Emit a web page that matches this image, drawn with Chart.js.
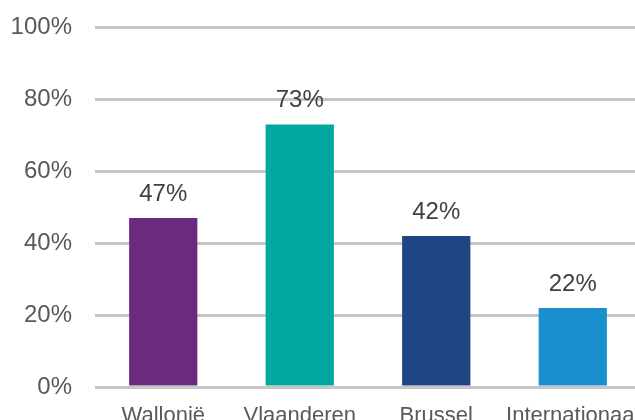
<!DOCTYPE html>
<html>
<head>
<meta charset="utf-8">
<script src="https://cdn.jsdelivr.net/npm/chart.js@4/dist/chart.umd.min.js"></script>
<style>
  html, body { margin: 0; padding: 0; background: #fff; overflow: hidden; width: 635px; height: 420px; }
  canvas { display: block; margin-top: -10px; }
</style>
</head>
<body>
<canvas id="chart" width="680" height="450"></canvas>
<script>
let categories = ["Wallonië", "Vlaanderen", "Brussel", "Internationaal"];
let values = [47, 73, 42, 22];
let barColors = ["#6b2a7d", "#00a8a0", "#1f4584", "#1a8ecf"];
let yTicks = [0, 20, 40, 60, 80, 100];

let fontFamily = "'Liberation Sans', Arial, sans-serif";

// draws the % value above every bar
let valueLabels = {
  id: "valueLabels",
  afterDatasetsDraw: function(chart){
    let ctx = chart.ctx;
    let meta = chart.getDatasetMeta(0);
    ctx.save();
    ctx.font = "24px " + fontFamily;
    ctx.fillStyle = "#404040";
    ctx.textAlign = "center";
    ctx.textBaseline = "alphabetic";
    meta.data.forEach(function(bar, i){
      ctx.fillText(values[i] + "%", bar.x, bar.y - 17);
    });
    ctx.restore();
  }
};

let chart = new Chart(document.getElementById("chart"), {
  type: "bar",
  data: {
    labels: categories,
    datasets: [{
      data: values,
      backgroundColor: barColors,
      categoryPercentage: 1,
      barPercentage: 0.5
    }]
  },
  options: {
    responsive: false,
    animation: false,
    layout: { padding: { top: 17, right: 39, left: 0, bottom: 0 } },
    plugins: {
      legend: { display: false },
      tooltip: { enabled: false }
    },
    scales: {
      x: {
        grid: { display: false, drawTicks: false },
        border: { display: false },
        ticks: {
          color: "#595959",
          font: { family: fontFamily, size: 22 },
          padding: 16,
          maxRotation: 0,
          autoSkip: false
        },
        afterFit: function(s){ s.height = 53; }
      },
      y: {
        min: 0,
        max: 100,
        afterBuildTicks: function(s){
          s.ticks = yTicks.map(function(v){ return { value: v }; });
        },
        grid: { color: "#c6c6c6", lineWidth: 3, drawTicks: false },
        border: { display: false },
        ticks: {
          color: "#595959",
          font: { family: fontFamily, size: 24 },
          padding: 23,
          callback: function(v){ return v + "%"; }
        },
        afterFit: function(s){ s.width = 95; }
      }
    }
  },
  plugins: [valueLabels]
});
</script>
</body>
</html>
